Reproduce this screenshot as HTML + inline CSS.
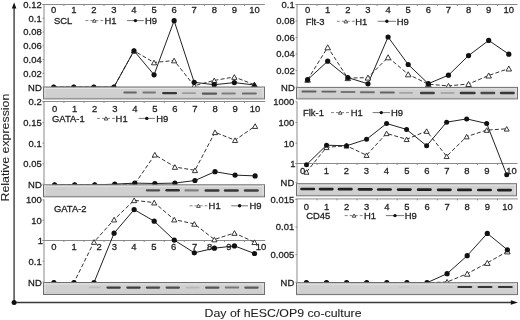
<!DOCTYPE html>
<html><head><meta charset="utf-8"><style>
html,body{margin:0;padding:0;background:#fff;width:520px;height:320px;overflow:hidden}
</style></head><body>
<svg width="520" height="320" viewBox="0 0 520 320" style="display:block;filter:blur(0.3px)">
<rect width="520" height="320" fill="#fff"/>
<g font-family='"Liberation Sans", sans-serif'>
<polyline points="53.70,87.10 73.77,87.10 93.84,87.10 113.91,87.10 133.98,50.80 154.05,62.50 174.12,60.50 194.19,85.80 214.26,80.40 234.33,77.00 254.40,84.70" fill="none" stroke="#333" stroke-width="1.0" stroke-dasharray="4,2.2"/>
<polyline points="53.70,87.10 73.77,87.10 93.84,87.10 113.91,87.10 133.98,50.80 154.05,74.80 174.12,20.70 194.19,82.30 214.26,84.70 234.33,82.60 254.40,85.00" fill="none" stroke="#222" stroke-width="1.0"/>
<polygon points="51.10,89.44 56.30,89.44 53.70,84.76" fill="#fff" stroke="#222" stroke-width="0.9"/>
<polygon points="71.17,89.44 76.37,89.44 73.77,84.76" fill="#fff" stroke="#222" stroke-width="0.9"/>
<polygon points="91.24,89.44 96.44,89.44 93.84,84.76" fill="#fff" stroke="#222" stroke-width="0.9"/>
<polygon points="111.31,89.44 116.51,89.44 113.91,84.76" fill="#fff" stroke="#222" stroke-width="0.9"/>
<polygon points="131.38,53.14 136.58,53.14 133.98,48.46" fill="#fff" stroke="#222" stroke-width="0.9"/>
<polygon points="151.45,64.84 156.65,64.84 154.05,60.16" fill="#fff" stroke="#222" stroke-width="0.9"/>
<polygon points="171.52,62.84 176.72,62.84 174.12,58.16" fill="#fff" stroke="#222" stroke-width="0.9"/>
<polygon points="191.59,88.14 196.79,88.14 194.19,83.46" fill="#fff" stroke="#222" stroke-width="0.9"/>
<polygon points="211.66,82.74 216.86,82.74 214.26,78.06" fill="#fff" stroke="#222" stroke-width="0.9"/>
<polygon points="231.73,79.34 236.93,79.34 234.33,74.66" fill="#fff" stroke="#222" stroke-width="0.9"/>
<polygon points="251.80,87.04 257.00,87.04 254.40,82.36" fill="#fff" stroke="#222" stroke-width="0.9"/>
<circle cx="53.70" cy="87.10" r="2.6" fill="#111"/>
<circle cx="73.77" cy="87.10" r="2.6" fill="#111"/>
<circle cx="93.84" cy="87.10" r="2.6" fill="#111"/>
<circle cx="113.91" cy="87.10" r="2.6" fill="#111"/>
<circle cx="133.98" cy="50.80" r="2.6" fill="#111"/>
<circle cx="154.05" cy="74.80" r="2.6" fill="#111"/>
<circle cx="174.12" cy="20.70" r="2.6" fill="#111"/>
<circle cx="194.19" cy="82.30" r="2.6" fill="#111"/>
<circle cx="214.26" cy="84.70" r="2.6" fill="#111"/>
<circle cx="234.33" cy="82.60" r="2.6" fill="#111"/>
<polygon points="251.60,87.22 257.20,87.22 254.40,82.18" fill="#111" stroke="#222" stroke-width="0.9"/>
<rect x="43.50" y="87.00" width="221.00" height="11.90" fill="#d0d0d0" stroke="#707070" stroke-width="1"/>
<line x1="44.00" y1="88.50" x2="264.00" y2="88.50" stroke="#e4e4e4" stroke-width="1"/>
<line x1="45.00" y1="87.50" x2="45.00" y2="98.40" stroke="#e0e0e0" stroke-width="1"/>
<line x1="263.00" y1="87.50" x2="263.00" y2="98.40" stroke="#e4e4e4" stroke-width="1"/>
<line x1="44.00" y1="97.40" x2="264.00" y2="97.40" stroke="#cbcbcb" stroke-width="1"/>
<rect x="123.35" y="91.60" width="13.50" height="1.80" rx="0.90" fill="#646464"/>
<rect x="142.45" y="91.60" width="13.50" height="1.80" rx="0.90" fill="#777777"/>
<rect x="162.10" y="92.05" width="15.00" height="2.30" rx="1.15" fill="#373737"/>
<rect x="182.00" y="92.30" width="14.00" height="1.80" rx="0.90" fill="#9b9b9b"/>
<rect x="201.75" y="92.55" width="15.50" height="2.10" rx="1.05" fill="#5b5b5b"/>
<rect x="221.35" y="92.60" width="14.50" height="2.00" rx="1.00" fill="#808080"/>
<rect x="241.80" y="92.40" width="15.00" height="2.00" rx="1.00" fill="#6d6d6d"/>
<line x1="44" y1="4.5" x2="44" y2="87.5" stroke="#8a8a8a" stroke-width="1"/>
<line x1="42.5" y1="4.50" x2="44" y2="4.50" stroke="#8a8a8a" stroke-width="1"/>
<text transform="translate(41.70,7.85) scale(0.955,1)" font-size="9.9" text-anchor="end" fill="#1e1e1e" stroke="#1e1e1e" stroke-width="0.3" >0.12</text>
<line x1="42.5" y1="18.20" x2="44" y2="18.20" stroke="#8a8a8a" stroke-width="1"/>
<text transform="translate(41.70,21.55) scale(0.955,1)" font-size="9.9" text-anchor="end" fill="#1e1e1e" stroke="#1e1e1e" stroke-width="0.3" >0.1</text>
<line x1="42.5" y1="32.00" x2="44" y2="32.00" stroke="#8a8a8a" stroke-width="1"/>
<text transform="translate(41.70,35.35) scale(0.955,1)" font-size="9.9" text-anchor="end" fill="#1e1e1e" stroke="#1e1e1e" stroke-width="0.3" >0.08</text>
<line x1="42.5" y1="45.80" x2="44" y2="45.80" stroke="#8a8a8a" stroke-width="1"/>
<text transform="translate(41.70,49.15) scale(0.955,1)" font-size="9.9" text-anchor="end" fill="#1e1e1e" stroke="#1e1e1e" stroke-width="0.3" >0.06</text>
<line x1="42.5" y1="59.60" x2="44" y2="59.60" stroke="#8a8a8a" stroke-width="1"/>
<text transform="translate(41.70,62.95) scale(0.955,1)" font-size="9.9" text-anchor="end" fill="#1e1e1e" stroke="#1e1e1e" stroke-width="0.3" >0.04</text>
<line x1="42.5" y1="73.40" x2="44" y2="73.40" stroke="#8a8a8a" stroke-width="1"/>
<text transform="translate(41.70,76.75) scale(0.955,1)" font-size="9.9" text-anchor="end" fill="#1e1e1e" stroke="#1e1e1e" stroke-width="0.3" >0.02</text>
<line x1="42.5" y1="87.20" x2="44" y2="87.20" stroke="#8a8a8a" stroke-width="1"/>
<text transform="translate(41.70,90.55) scale(0.955,1)" font-size="9.9" text-anchor="end" fill="#1e1e1e" stroke="#1e1e1e" stroke-width="0.3" >ND</text>
<line x1="42.5" y1="4.5" x2="264.8" y2="4.5" stroke="#8a8a8a" stroke-width="1"/>
<line x1="63.90" y1="4.5" x2="63.90" y2="6.0" stroke="#8a8a8a" stroke-width="1"/>
<line x1="83.97" y1="4.5" x2="83.97" y2="6.0" stroke="#8a8a8a" stroke-width="1"/>
<line x1="104.04" y1="4.5" x2="104.04" y2="6.0" stroke="#8a8a8a" stroke-width="1"/>
<line x1="124.11" y1="4.5" x2="124.11" y2="6.0" stroke="#8a8a8a" stroke-width="1"/>
<line x1="144.18" y1="4.5" x2="144.18" y2="6.0" stroke="#8a8a8a" stroke-width="1"/>
<line x1="164.25" y1="4.5" x2="164.25" y2="6.0" stroke="#8a8a8a" stroke-width="1"/>
<line x1="184.32" y1="4.5" x2="184.32" y2="6.0" stroke="#8a8a8a" stroke-width="1"/>
<line x1="204.39" y1="4.5" x2="204.39" y2="6.0" stroke="#8a8a8a" stroke-width="1"/>
<line x1="224.46" y1="4.5" x2="224.46" y2="6.0" stroke="#8a8a8a" stroke-width="1"/>
<line x1="244.53" y1="4.5" x2="244.53" y2="6.0" stroke="#8a8a8a" stroke-width="1"/>
<text transform="translate(53.70,12.90) scale(0.955,1)" font-size="9.9" text-anchor="middle" fill="#1e1e1e" stroke="#1e1e1e" stroke-width="0.3" >0</text>
<text transform="translate(73.77,12.90) scale(0.955,1)" font-size="9.9" text-anchor="middle" fill="#1e1e1e" stroke="#1e1e1e" stroke-width="0.3" >1</text>
<text transform="translate(93.84,12.90) scale(0.955,1)" font-size="9.9" text-anchor="middle" fill="#1e1e1e" stroke="#1e1e1e" stroke-width="0.3" >2</text>
<text transform="translate(113.91,12.90) scale(0.955,1)" font-size="9.9" text-anchor="middle" fill="#1e1e1e" stroke="#1e1e1e" stroke-width="0.3" >3</text>
<text transform="translate(133.98,12.90) scale(0.955,1)" font-size="9.9" text-anchor="middle" fill="#1e1e1e" stroke="#1e1e1e" stroke-width="0.3" >4</text>
<text transform="translate(154.05,12.90) scale(0.955,1)" font-size="9.9" text-anchor="middle" fill="#1e1e1e" stroke="#1e1e1e" stroke-width="0.3" >5</text>
<text transform="translate(174.12,12.90) scale(0.955,1)" font-size="9.9" text-anchor="middle" fill="#1e1e1e" stroke="#1e1e1e" stroke-width="0.3" >6</text>
<text transform="translate(194.19,12.90) scale(0.955,1)" font-size="9.9" text-anchor="middle" fill="#1e1e1e" stroke="#1e1e1e" stroke-width="0.3" >7</text>
<text transform="translate(214.26,12.90) scale(0.955,1)" font-size="9.9" text-anchor="middle" fill="#1e1e1e" stroke="#1e1e1e" stroke-width="0.3" >8</text>
<text transform="translate(234.33,12.90) scale(0.955,1)" font-size="9.9" text-anchor="middle" fill="#1e1e1e" stroke="#1e1e1e" stroke-width="0.3" >9</text>
<text transform="translate(254.40,12.90) scale(0.955,1)" font-size="9.9" text-anchor="middle" fill="#1e1e1e" stroke="#1e1e1e" stroke-width="0.3" >10</text>
<text transform="translate(53.90,23.95) scale(0.955,1)" font-size="9.9" text-anchor="start" fill="#1e1e1e" stroke="#1e1e1e" stroke-width="0.3" >SCL</text>
<line x1="85.4" y1="20.6" x2="103.2" y2="20.6" stroke="#777" stroke-width="0.9" stroke-dasharray="3,2"/>
<polygon points="92.50,22.22 96.10,22.22 94.30,18.98" fill="#fff" stroke="#222" stroke-width="0.8"/>
<text transform="translate(104.40,23.95) scale(0.955,1)" font-size="9.9" text-anchor="start" fill="#1e1e1e" stroke="#1e1e1e" stroke-width="0.3" >H1</text>
<line x1="127.0" y1="20.6" x2="143.8" y2="20.6" stroke="#666" stroke-width="0.9"/>
<circle cx="135.40" cy="20.60" r="1.7" fill="#111"/>
<text transform="translate(145.00,23.95) scale(0.955,1)" font-size="9.9" text-anchor="start" fill="#1e1e1e" stroke="#1e1e1e" stroke-width="0.3" >H9</text>
<polyline points="54.60,184.80 74.65,184.80 94.70,184.80 114.75,184.40 134.80,184.00 154.85,154.70 174.90,167.00 194.95,170.30 215.00,132.30 235.05,140.20 255.10,126.10" fill="none" stroke="#333" stroke-width="1.0" stroke-dasharray="4,2.2"/>
<polyline points="54.60,184.80 74.65,184.80 94.70,184.80 114.75,184.20 134.80,183.10 154.85,183.50 174.90,183.10 194.95,180.50 215.00,171.70 235.05,175.10 255.10,175.90" fill="none" stroke="#222" stroke-width="1.0"/>
<polygon points="52.00,187.14 57.20,187.14 54.60,182.46" fill="#fff" stroke="#222" stroke-width="0.9"/>
<polygon points="72.05,187.14 77.25,187.14 74.65,182.46" fill="#fff" stroke="#222" stroke-width="0.9"/>
<polygon points="92.10,187.14 97.30,187.14 94.70,182.46" fill="#fff" stroke="#222" stroke-width="0.9"/>
<polygon points="112.15,186.74 117.35,186.74 114.75,182.06" fill="#fff" stroke="#222" stroke-width="0.9"/>
<polygon points="132.20,186.34 137.40,186.34 134.80,181.66" fill="#fff" stroke="#222" stroke-width="0.9"/>
<polygon points="152.25,157.04 157.45,157.04 154.85,152.36" fill="#fff" stroke="#222" stroke-width="0.9"/>
<polygon points="172.30,169.34 177.50,169.34 174.90,164.66" fill="#fff" stroke="#222" stroke-width="0.9"/>
<polygon points="192.35,172.64 197.55,172.64 194.95,167.96" fill="#fff" stroke="#222" stroke-width="0.9"/>
<polygon points="212.40,134.64 217.60,134.64 215.00,129.96" fill="#fff" stroke="#222" stroke-width="0.9"/>
<polygon points="232.45,142.54 237.65,142.54 235.05,137.86" fill="#fff" stroke="#222" stroke-width="0.9"/>
<polygon points="252.50,128.44 257.70,128.44 255.10,123.76" fill="#fff" stroke="#222" stroke-width="0.9"/>
<circle cx="54.60" cy="184.80" r="2.6" fill="#111"/>
<circle cx="74.65" cy="184.80" r="2.6" fill="#111"/>
<circle cx="94.70" cy="184.80" r="2.6" fill="#111"/>
<circle cx="114.75" cy="184.20" r="2.6" fill="#111"/>
<circle cx="134.80" cy="183.10" r="2.6" fill="#111"/>
<circle cx="154.85" cy="183.50" r="2.6" fill="#111"/>
<circle cx="174.90" cy="183.10" r="2.6" fill="#111"/>
<circle cx="194.95" cy="180.50" r="2.6" fill="#111"/>
<circle cx="215.00" cy="171.70" r="2.6" fill="#111"/>
<circle cx="235.05" cy="175.10" r="2.6" fill="#111"/>
<circle cx="255.10" cy="175.90" r="2.6" fill="#111"/>
<rect x="43.50" y="184.80" width="221.00" height="12.00" fill="#d0d0d0" stroke="#707070" stroke-width="1"/>
<line x1="44.00" y1="186.30" x2="264.00" y2="186.30" stroke="#e4e4e4" stroke-width="1"/>
<line x1="45.00" y1="185.30" x2="45.00" y2="196.30" stroke="#e0e0e0" stroke-width="1"/>
<line x1="263.00" y1="185.30" x2="263.00" y2="196.30" stroke="#e4e4e4" stroke-width="1"/>
<line x1="44.00" y1="195.30" x2="264.00" y2="195.30" stroke="#cbcbcb" stroke-width="1"/>
<rect x="54.00" y="188.70" width="12.00" height="1.60" rx="0.80" fill="#cccccc"/>
<rect x="145.75" y="189.15" width="14.50" height="2.30" rx="1.15" fill="#4e4e4e"/>
<rect x="165.35" y="189.05" width="14.50" height="2.50" rx="1.25" fill="#313131"/>
<rect x="184.35" y="189.30" width="14.50" height="2.20" rx="1.10" fill="#808080"/>
<rect x="204.50" y="189.25" width="15.00" height="2.50" rx="1.25" fill="#373737"/>
<rect x="223.80" y="189.25" width="15.00" height="2.50" rx="1.25" fill="#373737"/>
<rect x="243.80" y="189.25" width="15.00" height="2.50" rx="1.25" fill="#404040"/>
<line x1="44" y1="101.5" x2="44" y2="184.5" stroke="#8a8a8a" stroke-width="1"/>
<line x1="42.5" y1="102.00" x2="44" y2="102.00" stroke="#8a8a8a" stroke-width="1"/>
<text transform="translate(41.70,105.35) scale(0.955,1)" font-size="9.9" text-anchor="end" fill="#1e1e1e" stroke="#1e1e1e" stroke-width="0.3" >0.2</text>
<line x1="42.5" y1="122.60" x2="44" y2="122.60" stroke="#8a8a8a" stroke-width="1"/>
<text transform="translate(41.70,125.95) scale(0.955,1)" font-size="9.9" text-anchor="end" fill="#1e1e1e" stroke="#1e1e1e" stroke-width="0.3" >0.15</text>
<line x1="42.5" y1="143.20" x2="44" y2="143.20" stroke="#8a8a8a" stroke-width="1"/>
<text transform="translate(41.70,146.55) scale(0.955,1)" font-size="9.9" text-anchor="end" fill="#1e1e1e" stroke="#1e1e1e" stroke-width="0.3" >0.1</text>
<line x1="42.5" y1="163.80" x2="44" y2="163.80" stroke="#8a8a8a" stroke-width="1"/>
<text transform="translate(41.70,167.15) scale(0.955,1)" font-size="9.9" text-anchor="end" fill="#1e1e1e" stroke="#1e1e1e" stroke-width="0.3" >0.05</text>
<line x1="42.5" y1="184.30" x2="44" y2="184.30" stroke="#8a8a8a" stroke-width="1"/>
<text transform="translate(41.70,187.65) scale(0.955,1)" font-size="9.9" text-anchor="end" fill="#1e1e1e" stroke="#1e1e1e" stroke-width="0.3" >ND</text>
<line x1="42.5" y1="101.5" x2="265.2" y2="101.5" stroke="#8a8a8a" stroke-width="1"/>
<line x1="63.90" y1="101.5" x2="63.90" y2="103.0" stroke="#8a8a8a" stroke-width="1"/>
<line x1="83.97" y1="101.5" x2="83.97" y2="103.0" stroke="#8a8a8a" stroke-width="1"/>
<line x1="104.04" y1="101.5" x2="104.04" y2="103.0" stroke="#8a8a8a" stroke-width="1"/>
<line x1="124.11" y1="101.5" x2="124.11" y2="103.0" stroke="#8a8a8a" stroke-width="1"/>
<line x1="144.18" y1="101.5" x2="144.18" y2="103.0" stroke="#8a8a8a" stroke-width="1"/>
<line x1="164.25" y1="101.5" x2="164.25" y2="103.0" stroke="#8a8a8a" stroke-width="1"/>
<line x1="184.32" y1="101.5" x2="184.32" y2="103.0" stroke="#8a8a8a" stroke-width="1"/>
<line x1="204.39" y1="101.5" x2="204.39" y2="103.0" stroke="#8a8a8a" stroke-width="1"/>
<line x1="224.46" y1="101.5" x2="224.46" y2="103.0" stroke="#8a8a8a" stroke-width="1"/>
<line x1="244.53" y1="101.5" x2="244.53" y2="103.0" stroke="#8a8a8a" stroke-width="1"/>
<text transform="translate(54.60,111.70) scale(0.955,1)" font-size="9.9" text-anchor="middle" fill="#1e1e1e" stroke="#1e1e1e" stroke-width="0.3" >0</text>
<text transform="translate(74.65,111.70) scale(0.955,1)" font-size="9.9" text-anchor="middle" fill="#1e1e1e" stroke="#1e1e1e" stroke-width="0.3" >1</text>
<text transform="translate(94.70,111.70) scale(0.955,1)" font-size="9.9" text-anchor="middle" fill="#1e1e1e" stroke="#1e1e1e" stroke-width="0.3" >2</text>
<text transform="translate(114.75,111.70) scale(0.955,1)" font-size="9.9" text-anchor="middle" fill="#1e1e1e" stroke="#1e1e1e" stroke-width="0.3" >3</text>
<text transform="translate(134.80,111.70) scale(0.955,1)" font-size="9.9" text-anchor="middle" fill="#1e1e1e" stroke="#1e1e1e" stroke-width="0.3" >4</text>
<text transform="translate(154.85,111.70) scale(0.955,1)" font-size="9.9" text-anchor="middle" fill="#1e1e1e" stroke="#1e1e1e" stroke-width="0.3" >5</text>
<text transform="translate(174.90,111.70) scale(0.955,1)" font-size="9.9" text-anchor="middle" fill="#1e1e1e" stroke="#1e1e1e" stroke-width="0.3" >6</text>
<text transform="translate(194.95,111.70) scale(0.955,1)" font-size="9.9" text-anchor="middle" fill="#1e1e1e" stroke="#1e1e1e" stroke-width="0.3" >7</text>
<text transform="translate(215.00,111.70) scale(0.955,1)" font-size="9.9" text-anchor="middle" fill="#1e1e1e" stroke="#1e1e1e" stroke-width="0.3" >8</text>
<text transform="translate(235.05,111.70) scale(0.955,1)" font-size="9.9" text-anchor="middle" fill="#1e1e1e" stroke="#1e1e1e" stroke-width="0.3" >9</text>
<text transform="translate(255.10,111.70) scale(0.955,1)" font-size="9.9" text-anchor="middle" fill="#1e1e1e" stroke="#1e1e1e" stroke-width="0.3" >10</text>
<text transform="translate(52.00,121.75) scale(0.955,1)" font-size="9.9" text-anchor="start" fill="#1e1e1e" stroke="#1e1e1e" stroke-width="0.3" >GATA-1</text>
<line x1="97.0" y1="118.4" x2="115.0" y2="118.4" stroke="#777" stroke-width="0.9" stroke-dasharray="3,2"/>
<polygon points="104.20,120.02 107.80,120.02 106.00,116.78" fill="#fff" stroke="#222" stroke-width="0.8"/>
<text transform="translate(115.60,121.75) scale(0.955,1)" font-size="9.9" text-anchor="start" fill="#1e1e1e" stroke="#1e1e1e" stroke-width="0.3" >H1</text>
<line x1="138.6" y1="118.4" x2="155.0" y2="118.4" stroke="#666" stroke-width="0.9"/>
<circle cx="146.80" cy="118.40" r="1.7" fill="#111"/>
<text transform="translate(156.20,121.75) scale(0.955,1)" font-size="9.9" text-anchor="start" fill="#1e1e1e" stroke="#1e1e1e" stroke-width="0.3" >H9</text>
<line x1="42.5" y1="240.5" x2="265.2" y2="240.5" stroke="#8a8a8a" stroke-width="1"/>
<line x1="63.90" y1="240.5" x2="63.90" y2="242.0" stroke="#8a8a8a" stroke-width="1"/>
<line x1="83.97" y1="240.5" x2="83.97" y2="242.0" stroke="#8a8a8a" stroke-width="1"/>
<line x1="104.04" y1="240.5" x2="104.04" y2="242.0" stroke="#8a8a8a" stroke-width="1"/>
<line x1="124.11" y1="240.5" x2="124.11" y2="242.0" stroke="#8a8a8a" stroke-width="1"/>
<line x1="144.18" y1="240.5" x2="144.18" y2="242.0" stroke="#8a8a8a" stroke-width="1"/>
<line x1="164.25" y1="240.5" x2="164.25" y2="242.0" stroke="#8a8a8a" stroke-width="1"/>
<line x1="184.32" y1="240.5" x2="184.32" y2="242.0" stroke="#8a8a8a" stroke-width="1"/>
<line x1="204.39" y1="240.5" x2="204.39" y2="242.0" stroke="#8a8a8a" stroke-width="1"/>
<line x1="224.46" y1="240.5" x2="224.46" y2="242.0" stroke="#8a8a8a" stroke-width="1"/>
<line x1="244.53" y1="240.5" x2="244.53" y2="242.0" stroke="#8a8a8a" stroke-width="1"/>
<text transform="translate(53.90,250.00) scale(0.955,1)" font-size="9.9" text-anchor="middle" fill="#1e1e1e" stroke="#1e1e1e" stroke-width="0.3" >0</text>
<text transform="translate(74.00,250.00) scale(0.955,1)" font-size="9.9" text-anchor="middle" fill="#1e1e1e" stroke="#1e1e1e" stroke-width="0.3" >1</text>
<text transform="translate(99.10,250.00) scale(0.955,1)" font-size="9.9" text-anchor="middle" fill="#1e1e1e" stroke="#1e1e1e" stroke-width="0.3" >2</text>
<text transform="translate(114.40,250.00) scale(0.955,1)" font-size="9.9" text-anchor="middle" fill="#1e1e1e" stroke="#1e1e1e" stroke-width="0.3" >3</text>
<text transform="translate(133.90,250.00) scale(0.955,1)" font-size="9.9" text-anchor="middle" fill="#1e1e1e" stroke="#1e1e1e" stroke-width="0.3" >4</text>
<text transform="translate(153.90,250.00) scale(0.955,1)" font-size="9.9" text-anchor="middle" fill="#1e1e1e" stroke="#1e1e1e" stroke-width="0.3" >5</text>
<text transform="translate(173.60,250.00) scale(0.955,1)" font-size="9.9" text-anchor="middle" fill="#1e1e1e" stroke="#1e1e1e" stroke-width="0.3" >6</text>
<text transform="translate(194.50,250.00) scale(0.955,1)" font-size="9.9" text-anchor="middle" fill="#1e1e1e" stroke="#1e1e1e" stroke-width="0.3" >7</text>
<text transform="translate(209.50,250.00) scale(0.955,1)" font-size="9.9" text-anchor="middle" fill="#1e1e1e" stroke="#1e1e1e" stroke-width="0.3" >8</text>
<text transform="translate(228.80,250.00) scale(0.955,1)" font-size="9.9" text-anchor="middle" fill="#1e1e1e" stroke="#1e1e1e" stroke-width="0.3" >9</text>
<text transform="translate(261.00,250.00) scale(0.955,1)" font-size="9.9" text-anchor="middle" fill="#1e1e1e" stroke="#1e1e1e" stroke-width="0.3" >10</text>
<polyline points="53.90,282.50 73.96,282.50 94.02,242.00 114.08,219.60 134.14,200.30 154.20,202.60 174.26,219.60 194.32,223.90 214.38,239.50 234.44,233.00 254.50,242.20" fill="none" stroke="#333" stroke-width="1.0" stroke-dasharray="4,2.2"/>
<polyline points="53.90,282.50 73.96,282.50 94.02,282.50 114.08,233.20 134.14,209.60 154.20,221.20 174.26,240.10 194.32,252.80 214.38,248.20 234.44,245.90 254.50,253.50" fill="none" stroke="#222" stroke-width="1.0"/>
<polygon points="51.30,284.84 56.50,284.84 53.90,280.16" fill="#fff" stroke="#222" stroke-width="0.9"/>
<polygon points="71.36,284.84 76.56,284.84 73.96,280.16" fill="#fff" stroke="#222" stroke-width="0.9"/>
<polygon points="91.42,244.34 96.62,244.34 94.02,239.66" fill="#fff" stroke="#222" stroke-width="0.9"/>
<polygon points="111.48,221.94 116.68,221.94 114.08,217.26" fill="#fff" stroke="#222" stroke-width="0.9"/>
<polygon points="131.54,202.64 136.74,202.64 134.14,197.96" fill="#fff" stroke="#222" stroke-width="0.9"/>
<polygon points="151.60,204.94 156.80,204.94 154.20,200.26" fill="#fff" stroke="#222" stroke-width="0.9"/>
<polygon points="171.66,221.94 176.86,221.94 174.26,217.26" fill="#fff" stroke="#222" stroke-width="0.9"/>
<polygon points="191.72,226.24 196.92,226.24 194.32,221.56" fill="#fff" stroke="#222" stroke-width="0.9"/>
<polygon points="211.78,241.84 216.98,241.84 214.38,237.16" fill="#fff" stroke="#222" stroke-width="0.9"/>
<polygon points="231.84,235.34 237.04,235.34 234.44,230.66" fill="#fff" stroke="#222" stroke-width="0.9"/>
<polygon points="251.90,244.54 257.10,244.54 254.50,239.86" fill="#fff" stroke="#222" stroke-width="0.9"/>
<circle cx="53.90" cy="282.50" r="2.6" fill="#111"/>
<circle cx="73.96" cy="282.50" r="2.6" fill="#111"/>
<circle cx="94.02" cy="282.50" r="2.6" fill="#111"/>
<circle cx="114.08" cy="233.20" r="2.6" fill="#111"/>
<circle cx="134.14" cy="209.60" r="2.6" fill="#111"/>
<circle cx="154.20" cy="221.20" r="2.6" fill="#111"/>
<circle cx="174.26" cy="240.10" r="2.6" fill="#111"/>
<circle cx="194.32" cy="252.80" r="2.6" fill="#111"/>
<circle cx="214.38" cy="248.20" r="2.6" fill="#111"/>
<circle cx="234.44" cy="245.90" r="2.6" fill="#111"/>
<circle cx="254.50" cy="253.50" r="2.6" fill="#111"/>
<rect x="43.50" y="282.50" width="221.00" height="12.00" fill="#d0d0d0" stroke="#707070" stroke-width="1"/>
<line x1="44.00" y1="284.00" x2="264.00" y2="284.00" stroke="#e4e4e4" stroke-width="1"/>
<line x1="45.00" y1="283.00" x2="45.00" y2="294.00" stroke="#e0e0e0" stroke-width="1"/>
<line x1="263.00" y1="283.00" x2="263.00" y2="294.00" stroke="#e4e4e4" stroke-width="1"/>
<line x1="44.00" y1="293.00" x2="264.00" y2="293.00" stroke="#cbcbcb" stroke-width="1"/>
<rect x="88.70" y="286.50" width="12.00" height="1.80" rx="0.90" fill="#bcbcbc"/>
<rect x="106.35" y="286.45" width="14.50" height="2.30" rx="1.15" fill="#3c3c3c"/>
<rect x="126.25" y="286.45" width="14.50" height="2.30" rx="1.15" fill="#3c3c3c"/>
<rect x="145.75" y="286.50" width="14.50" height="2.20" rx="1.10" fill="#494949"/>
<rect x="165.55" y="286.50" width="14.50" height="2.20" rx="1.10" fill="#4e4e4e"/>
<rect x="185.70" y="286.70" width="14.00" height="1.80" rx="0.90" fill="#b6b6b6"/>
<rect x="205.05" y="286.55" width="14.50" height="2.10" rx="1.05" fill="#565656"/>
<rect x="224.75" y="286.60" width="14.50" height="2.00" rx="1.00" fill="#777777"/>
<rect x="244.25" y="286.55" width="14.50" height="2.10" rx="1.05" fill="#5b5b5b"/>
<line x1="44" y1="199.4" x2="44" y2="282.5" stroke="#8a8a8a" stroke-width="1"/>
<line x1="42.5" y1="199.90" x2="44" y2="199.90" stroke="#8a8a8a" stroke-width="1"/>
<text transform="translate(41.70,203.25) scale(0.955,1)" font-size="9.9" text-anchor="end" fill="#1e1e1e" stroke="#1e1e1e" stroke-width="0.3" >100</text>
<line x1="42.5" y1="220.20" x2="44" y2="220.20" stroke="#8a8a8a" stroke-width="1"/>
<text transform="translate(41.70,223.55) scale(0.955,1)" font-size="9.9" text-anchor="end" fill="#1e1e1e" stroke="#1e1e1e" stroke-width="0.3" >10</text>
<line x1="42.5" y1="240.50" x2="44" y2="240.50" stroke="#8a8a8a" stroke-width="1"/>
<text transform="translate(42.90,243.85) scale(0.955,1)" font-size="9.9" text-anchor="end" fill="#1e1e1e" stroke="#1e1e1e" stroke-width="0.3" >1</text>
<line x1="42.5" y1="261.30" x2="44" y2="261.30" stroke="#8a8a8a" stroke-width="1"/>
<text transform="translate(41.70,264.65) scale(0.955,1)" font-size="9.9" text-anchor="end" fill="#1e1e1e" stroke="#1e1e1e" stroke-width="0.3" >0.1</text>
<line x1="42.5" y1="282.20" x2="44" y2="282.20" stroke="#8a8a8a" stroke-width="1"/>
<text transform="translate(41.70,285.55) scale(0.955,1)" font-size="9.9" text-anchor="end" fill="#1e1e1e" stroke="#1e1e1e" stroke-width="0.3" >ND</text>
<text transform="translate(53.90,212.00) scale(0.955,1)" font-size="9.9" text-anchor="start" fill="#1e1e1e" stroke="#1e1e1e" stroke-width="0.3" >GATA-2</text>
<text transform="translate(0.00,209.15) scale(0.955,1)" font-size="9.9" text-anchor="start" fill="#1e1e1e" stroke="#1e1e1e" stroke-width="0.3" ></text>
<line x1="189.6" y1="205.8" x2="207.3" y2="205.8" stroke="#777" stroke-width="0.9" stroke-dasharray="3,2"/>
<polygon points="196.65,207.42 200.25,207.42 198.45,204.18" fill="#fff" stroke="#222" stroke-width="0.8"/>
<text transform="translate(208.60,209.15) scale(0.955,1)" font-size="9.9" text-anchor="start" fill="#1e1e1e" stroke="#1e1e1e" stroke-width="0.3" >H1</text>
<line x1="231.2" y1="205.8" x2="248.0" y2="205.8" stroke="#666" stroke-width="0.9"/>
<circle cx="239.60" cy="205.80" r="1.7" fill="#111"/>
<text transform="translate(249.40,209.15) scale(0.955,1)" font-size="9.9" text-anchor="start" fill="#1e1e1e" stroke="#1e1e1e" stroke-width="0.3" >H9</text>
<polyline points="307.60,79.70 327.72,47.30 347.84,78.10 367.96,77.60 388.08,57.30 408.20,74.30 428.32,84.20 448.44,85.90 468.56,84.00 488.68,75.50 508.80,68.50" fill="none" stroke="#333" stroke-width="1.0" stroke-dasharray="4,2.2"/>
<polyline points="307.60,79.70 327.72,61.20 347.84,77.60 367.96,83.80 388.08,37.00 408.20,64.50 428.32,83.70 448.44,75.20 468.56,55.60 488.68,40.40 508.80,54.20" fill="none" stroke="#222" stroke-width="1.0"/>
<polygon points="304.80,82.22 310.40,82.22 307.60,77.18" fill="#fff" stroke="#222" stroke-width="0.9"/>
<polygon points="324.92,49.82 330.52,49.82 327.72,44.78" fill="#fff" stroke="#222" stroke-width="0.9"/>
<polygon points="345.04,80.62 350.64,80.62 347.84,75.58" fill="#fff" stroke="#222" stroke-width="0.9"/>
<polygon points="365.16,80.12 370.76,80.12 367.96,75.08" fill="#fff" stroke="#222" stroke-width="0.9"/>
<polygon points="385.28,59.82 390.88,59.82 388.08,54.78" fill="#fff" stroke="#222" stroke-width="0.9"/>
<polygon points="405.40,76.82 411.00,76.82 408.20,71.78" fill="#fff" stroke="#222" stroke-width="0.9"/>
<polygon points="425.52,86.72 431.12,86.72 428.32,81.68" fill="#fff" stroke="#222" stroke-width="0.9"/>
<polygon points="445.64,88.42 451.24,88.42 448.44,83.38" fill="#fff" stroke="#222" stroke-width="0.9"/>
<polygon points="465.76,86.52 471.36,86.52 468.56,81.48" fill="#fff" stroke="#222" stroke-width="0.9"/>
<polygon points="485.88,78.02 491.48,78.02 488.68,72.98" fill="#fff" stroke="#222" stroke-width="0.9"/>
<polygon points="506.00,71.02 511.60,71.02 508.80,65.98" fill="#fff" stroke="#222" stroke-width="0.9"/>
<circle cx="307.60" cy="79.70" r="2.6" fill="#111"/>
<circle cx="327.72" cy="61.20" r="2.6" fill="#111"/>
<circle cx="347.84" cy="77.60" r="2.6" fill="#111"/>
<circle cx="367.96" cy="83.80" r="2.6" fill="#111"/>
<circle cx="388.08" cy="37.00" r="2.6" fill="#111"/>
<circle cx="408.20" cy="64.50" r="2.6" fill="#111"/>
<circle cx="428.32" cy="83.70" r="2.6" fill="#111"/>
<circle cx="448.44" cy="75.20" r="2.6" fill="#111"/>
<circle cx="468.56" cy="55.60" r="2.6" fill="#111"/>
<circle cx="488.68" cy="40.40" r="2.6" fill="#111"/>
<circle cx="508.80" cy="54.20" r="2.6" fill="#111"/>
<rect x="296.50" y="87.40" width="221.00" height="11.50" fill="#d0d0d0" stroke="#707070" stroke-width="1"/>
<line x1="297.00" y1="88.90" x2="517.00" y2="88.90" stroke="#e4e4e4" stroke-width="1"/>
<line x1="298.00" y1="87.90" x2="298.00" y2="98.40" stroke="#e0e0e0" stroke-width="1"/>
<line x1="516.00" y1="87.90" x2="516.00" y2="98.40" stroke="#e4e4e4" stroke-width="1"/>
<line x1="297.00" y1="97.40" x2="517.00" y2="97.40" stroke="#cbcbcb" stroke-width="1"/>
<rect x="301.50" y="90.55" width="15.00" height="1.90" rx="0.95" fill="#616161"/>
<rect x="321.40" y="90.65" width="15.00" height="1.90" rx="0.95" fill="#616161"/>
<rect x="340.50" y="91.05" width="15.00" height="1.90" rx="0.95" fill="#777777"/>
<rect x="359.90" y="91.35" width="15.00" height="1.90" rx="0.95" fill="#6d6d6d"/>
<rect x="379.80" y="91.60" width="15.00" height="2.00" rx="1.00" fill="#646464"/>
<rect x="399.00" y="91.90" width="14.00" height="1.80" rx="0.90" fill="#a4a4a4"/>
<rect x="419.90" y="91.80" width="15.00" height="2.40" rx="1.20" fill="#404040"/>
<rect x="440.60" y="92.10" width="14.00" height="1.80" rx="0.90" fill="#a9a9a9"/>
<rect x="459.70" y="91.75" width="16.00" height="2.50" rx="1.25" fill="#373737"/>
<rect x="480.30" y="91.80" width="15.00" height="2.40" rx="1.20" fill="#494949"/>
<rect x="499.80" y="91.75" width="15.00" height="2.50" rx="1.25" fill="#373737"/>
<line x1="297" y1="4.5" x2="297" y2="87.5" stroke="#8a8a8a" stroke-width="1"/>
<line x1="295.5" y1="4.50" x2="297" y2="4.50" stroke="#8a8a8a" stroke-width="1"/>
<text transform="translate(294.70,7.85) scale(0.955,1)" font-size="9.9" text-anchor="end" fill="#1e1e1e" stroke="#1e1e1e" stroke-width="0.3" >0.1</text>
<line x1="295.5" y1="21.00" x2="297" y2="21.00" stroke="#8a8a8a" stroke-width="1"/>
<text transform="translate(294.70,24.35) scale(0.955,1)" font-size="9.9" text-anchor="end" fill="#1e1e1e" stroke="#1e1e1e" stroke-width="0.3" >0.08</text>
<line x1="295.5" y1="37.50" x2="297" y2="37.50" stroke="#8a8a8a" stroke-width="1"/>
<text transform="translate(294.70,40.85) scale(0.955,1)" font-size="9.9" text-anchor="end" fill="#1e1e1e" stroke="#1e1e1e" stroke-width="0.3" >0.06</text>
<line x1="295.5" y1="54.00" x2="297" y2="54.00" stroke="#8a8a8a" stroke-width="1"/>
<text transform="translate(294.70,57.35) scale(0.955,1)" font-size="9.9" text-anchor="end" fill="#1e1e1e" stroke="#1e1e1e" stroke-width="0.3" >0.04</text>
<line x1="295.5" y1="70.60" x2="297" y2="70.60" stroke="#8a8a8a" stroke-width="1"/>
<text transform="translate(294.70,73.95) scale(0.955,1)" font-size="9.9" text-anchor="end" fill="#1e1e1e" stroke="#1e1e1e" stroke-width="0.3" >0.02</text>
<line x1="295.5" y1="87.20" x2="297" y2="87.20" stroke="#8a8a8a" stroke-width="1"/>
<text transform="translate(294.70,90.55) scale(0.955,1)" font-size="9.9" text-anchor="end" fill="#1e1e1e" stroke="#1e1e1e" stroke-width="0.3" >ND</text>
<line x1="295.5" y1="4.5" x2="517.5" y2="4.5" stroke="#8a8a8a" stroke-width="1"/>
<line x1="317.00" y1="4.5" x2="317.00" y2="6.0" stroke="#8a8a8a" stroke-width="1"/>
<line x1="337.05" y1="4.5" x2="337.05" y2="6.0" stroke="#8a8a8a" stroke-width="1"/>
<line x1="357.10" y1="4.5" x2="357.10" y2="6.0" stroke="#8a8a8a" stroke-width="1"/>
<line x1="377.15" y1="4.5" x2="377.15" y2="6.0" stroke="#8a8a8a" stroke-width="1"/>
<line x1="397.20" y1="4.5" x2="397.20" y2="6.0" stroke="#8a8a8a" stroke-width="1"/>
<line x1="417.25" y1="4.5" x2="417.25" y2="6.0" stroke="#8a8a8a" stroke-width="1"/>
<line x1="437.30" y1="4.5" x2="437.30" y2="6.0" stroke="#8a8a8a" stroke-width="1"/>
<line x1="457.35" y1="4.5" x2="457.35" y2="6.0" stroke="#8a8a8a" stroke-width="1"/>
<line x1="477.40" y1="4.5" x2="477.40" y2="6.0" stroke="#8a8a8a" stroke-width="1"/>
<line x1="497.45" y1="4.5" x2="497.45" y2="6.0" stroke="#8a8a8a" stroke-width="1"/>
<text transform="translate(307.60,12.90) scale(0.955,1)" font-size="9.9" text-anchor="middle" fill="#1e1e1e" stroke="#1e1e1e" stroke-width="0.3" >0</text>
<text transform="translate(327.72,12.90) scale(0.955,1)" font-size="9.9" text-anchor="middle" fill="#1e1e1e" stroke="#1e1e1e" stroke-width="0.3" >1</text>
<text transform="translate(347.84,12.90) scale(0.955,1)" font-size="9.9" text-anchor="middle" fill="#1e1e1e" stroke="#1e1e1e" stroke-width="0.3" >2</text>
<text transform="translate(367.96,12.90) scale(0.955,1)" font-size="9.9" text-anchor="middle" fill="#1e1e1e" stroke="#1e1e1e" stroke-width="0.3" >3</text>
<text transform="translate(388.08,12.90) scale(0.955,1)" font-size="9.9" text-anchor="middle" fill="#1e1e1e" stroke="#1e1e1e" stroke-width="0.3" >4</text>
<text transform="translate(408.20,12.90) scale(0.955,1)" font-size="9.9" text-anchor="middle" fill="#1e1e1e" stroke="#1e1e1e" stroke-width="0.3" >5</text>
<text transform="translate(428.32,12.90) scale(0.955,1)" font-size="9.9" text-anchor="middle" fill="#1e1e1e" stroke="#1e1e1e" stroke-width="0.3" >6</text>
<text transform="translate(448.44,12.90) scale(0.955,1)" font-size="9.9" text-anchor="middle" fill="#1e1e1e" stroke="#1e1e1e" stroke-width="0.3" >7</text>
<text transform="translate(468.56,12.90) scale(0.955,1)" font-size="9.9" text-anchor="middle" fill="#1e1e1e" stroke="#1e1e1e" stroke-width="0.3" >8</text>
<text transform="translate(488.68,12.90) scale(0.955,1)" font-size="9.9" text-anchor="middle" fill="#1e1e1e" stroke="#1e1e1e" stroke-width="0.3" >9</text>
<text transform="translate(508.80,12.90) scale(0.955,1)" font-size="9.9" text-anchor="middle" fill="#1e1e1e" stroke="#1e1e1e" stroke-width="0.3" >10</text>
<text transform="translate(305.70,24.65) scale(0.955,1)" font-size="9.9" text-anchor="start" fill="#1e1e1e" stroke="#1e1e1e" stroke-width="0.3" >Flt-3</text>
<line x1="336.8" y1="21.3" x2="354.8" y2="21.3" stroke="#777" stroke-width="0.9" stroke-dasharray="3,2"/>
<polygon points="344.00,22.92 347.60,22.92 345.80,19.68" fill="#fff" stroke="#222" stroke-width="0.8"/>
<text transform="translate(355.30,24.65) scale(0.955,1)" font-size="9.9" text-anchor="start" fill="#1e1e1e" stroke="#1e1e1e" stroke-width="0.3" >H1</text>
<line x1="377.7" y1="21.3" x2="396" y2="21.3" stroke="#666" stroke-width="0.9"/>
<circle cx="386.85" cy="21.30" r="1.7" fill="#111"/>
<text transform="translate(396.80,24.65) scale(0.955,1)" font-size="9.9" text-anchor="start" fill="#1e1e1e" stroke="#1e1e1e" stroke-width="0.3" >H9</text>
<line x1="295.5" y1="163.5" x2="517.5" y2="163.5" stroke="#8a8a8a" stroke-width="1"/>
<line x1="317.00" y1="163.5" x2="317.00" y2="165.0" stroke="#8a8a8a" stroke-width="1"/>
<line x1="337.05" y1="163.5" x2="337.05" y2="165.0" stroke="#8a8a8a" stroke-width="1"/>
<line x1="357.10" y1="163.5" x2="357.10" y2="165.0" stroke="#8a8a8a" stroke-width="1"/>
<line x1="377.15" y1="163.5" x2="377.15" y2="165.0" stroke="#8a8a8a" stroke-width="1"/>
<line x1="397.20" y1="163.5" x2="397.20" y2="165.0" stroke="#8a8a8a" stroke-width="1"/>
<line x1="417.25" y1="163.5" x2="417.25" y2="165.0" stroke="#8a8a8a" stroke-width="1"/>
<line x1="437.30" y1="163.5" x2="437.30" y2="165.0" stroke="#8a8a8a" stroke-width="1"/>
<line x1="457.35" y1="163.5" x2="457.35" y2="165.0" stroke="#8a8a8a" stroke-width="1"/>
<line x1="477.40" y1="163.5" x2="477.40" y2="165.0" stroke="#8a8a8a" stroke-width="1"/>
<line x1="497.45" y1="163.5" x2="497.45" y2="165.0" stroke="#8a8a8a" stroke-width="1"/>
<text transform="translate(302.60,174.30) scale(0.955,1)" font-size="9.9" text-anchor="middle" fill="#1e1e1e" stroke="#1e1e1e" stroke-width="0.3" >0</text>
<text transform="translate(326.30,174.30) scale(0.955,1)" font-size="9.9" text-anchor="middle" fill="#1e1e1e" stroke="#1e1e1e" stroke-width="0.3" >1</text>
<text transform="translate(346.40,174.30) scale(0.955,1)" font-size="9.9" text-anchor="middle" fill="#1e1e1e" stroke="#1e1e1e" stroke-width="0.3" >2</text>
<text transform="translate(366.40,174.30) scale(0.955,1)" font-size="9.9" text-anchor="middle" fill="#1e1e1e" stroke="#1e1e1e" stroke-width="0.3" >3</text>
<text transform="translate(386.30,174.30) scale(0.955,1)" font-size="9.9" text-anchor="middle" fill="#1e1e1e" stroke="#1e1e1e" stroke-width="0.3" >4</text>
<text transform="translate(406.80,174.30) scale(0.955,1)" font-size="9.9" text-anchor="middle" fill="#1e1e1e" stroke="#1e1e1e" stroke-width="0.3" >5</text>
<text transform="translate(426.90,174.30) scale(0.955,1)" font-size="9.9" text-anchor="middle" fill="#1e1e1e" stroke="#1e1e1e" stroke-width="0.3" >6</text>
<text transform="translate(446.90,174.30) scale(0.955,1)" font-size="9.9" text-anchor="middle" fill="#1e1e1e" stroke="#1e1e1e" stroke-width="0.3" >7</text>
<text transform="translate(466.80,174.30) scale(0.955,1)" font-size="9.9" text-anchor="middle" fill="#1e1e1e" stroke="#1e1e1e" stroke-width="0.3" >8</text>
<text transform="translate(486.90,174.30) scale(0.955,1)" font-size="9.9" text-anchor="middle" fill="#1e1e1e" stroke="#1e1e1e" stroke-width="0.3" >9</text>
<text transform="translate(511.50,174.30) scale(0.955,1)" font-size="9.9" text-anchor="middle" fill="#1e1e1e" stroke="#1e1e1e" stroke-width="0.3" >10</text>
<polyline points="306.50,172.00 326.52,147.30 346.54,145.80 366.56,155.20 386.58,133.40 406.60,139.30 426.62,131.10 446.64,156.30 466.66,136.60 486.68,130.10 506.70,128.80" fill="none" stroke="#333" stroke-width="1.0" stroke-dasharray="4,2.2"/>
<polyline points="306.50,164.70 326.52,145.20 346.54,145.80 366.56,139.30 386.58,123.50 406.60,129.40 426.62,145.80 446.64,122.20 466.66,118.90 486.68,123.50 506.70,174.70" fill="none" stroke="#222" stroke-width="1.0"/>
<polygon points="304.00,174.25 309.00,174.25 306.50,169.75" fill="#fff" stroke="#222" stroke-width="0.9"/>
<polygon points="324.02,149.55 329.02,149.55 326.52,145.05" fill="#fff" stroke="#222" stroke-width="0.9"/>
<polygon points="344.04,148.05 349.04,148.05 346.54,143.55" fill="#fff" stroke="#222" stroke-width="0.9"/>
<polygon points="364.06,157.45 369.06,157.45 366.56,152.95" fill="#fff" stroke="#222" stroke-width="0.9"/>
<polygon points="384.08,135.65 389.08,135.65 386.58,131.15" fill="#fff" stroke="#222" stroke-width="0.9"/>
<polygon points="404.10,141.55 409.10,141.55 406.60,137.05" fill="#fff" stroke="#222" stroke-width="0.9"/>
<polygon points="424.12,133.35 429.12,133.35 426.62,128.85" fill="#fff" stroke="#222" stroke-width="0.9"/>
<polygon points="444.14,158.55 449.14,158.55 446.64,154.05" fill="#fff" stroke="#222" stroke-width="0.9"/>
<polygon points="464.16,138.85 469.16,138.85 466.66,134.35" fill="#fff" stroke="#222" stroke-width="0.9"/>
<polygon points="484.18,132.35 489.18,132.35 486.68,127.85" fill="#fff" stroke="#222" stroke-width="0.9"/>
<polygon points="504.20,131.05 509.20,131.05 506.70,126.55" fill="#fff" stroke="#222" stroke-width="0.9"/>
<circle cx="306.50" cy="164.70" r="2.5" fill="#111"/>
<circle cx="326.52" cy="145.20" r="2.5" fill="#111"/>
<circle cx="346.54" cy="145.80" r="2.5" fill="#111"/>
<circle cx="366.56" cy="139.30" r="2.5" fill="#111"/>
<circle cx="386.58" cy="123.50" r="2.5" fill="#111"/>
<circle cx="406.60" cy="129.40" r="2.5" fill="#111"/>
<circle cx="426.62" cy="145.80" r="2.5" fill="#111"/>
<circle cx="446.64" cy="122.20" r="2.5" fill="#111"/>
<circle cx="466.66" cy="118.90" r="2.5" fill="#111"/>
<circle cx="486.68" cy="123.50" r="2.5" fill="#111"/>
<circle cx="506.70" cy="174.70" r="2.5" fill="#111"/>
<rect x="296.50" y="183.70" width="220.00" height="12.10" fill="#d0d0d0" stroke="#707070" stroke-width="1"/>
<line x1="297.00" y1="185.20" x2="516.00" y2="185.20" stroke="#e4e4e4" stroke-width="1"/>
<line x1="298.00" y1="184.20" x2="298.00" y2="195.30" stroke="#e0e0e0" stroke-width="1"/>
<line x1="515.00" y1="184.20" x2="515.00" y2="195.30" stroke="#e4e4e4" stroke-width="1"/>
<line x1="297.00" y1="194.30" x2="516.00" y2="194.30" stroke="#cbcbcb" stroke-width="1"/>
<rect x="300.20" y="187.65" width="15.00" height="2.70" rx="1.35" fill="#212121"/>
<rect x="318.70" y="187.75" width="15.00" height="2.70" rx="1.35" fill="#212121"/>
<rect x="337.70" y="187.85" width="15.00" height="2.70" rx="1.35" fill="#212121"/>
<rect x="357.70" y="187.95" width="15.00" height="2.70" rx="1.35" fill="#212121"/>
<rect x="376.90" y="188.15" width="15.00" height="2.70" rx="1.35" fill="#212121"/>
<rect x="396.80" y="188.25" width="15.00" height="2.70" rx="1.35" fill="#212121"/>
<rect x="416.80" y="188.35" width="15.00" height="2.70" rx="1.35" fill="#212121"/>
<rect x="436.80" y="188.45" width="15.00" height="2.70" rx="1.35" fill="#212121"/>
<rect x="457.00" y="188.55" width="15.00" height="2.70" rx="1.35" fill="#212121"/>
<rect x="477.00" y="188.65" width="15.00" height="2.70" rx="1.35" fill="#212121"/>
<rect x="497.00" y="188.75" width="15.00" height="2.70" rx="1.35" fill="#212121"/>
<line x1="297" y1="101.5" x2="297" y2="183.5" stroke="#8a8a8a" stroke-width="1"/>
<line x1="295.5" y1="101.80" x2="297" y2="101.80" stroke="#8a8a8a" stroke-width="1"/>
<text transform="translate(294.20,105.15) scale(0.955,1)" font-size="9.9" text-anchor="end" fill="#1e1e1e" stroke="#1e1e1e" stroke-width="0.3" >1000</text>
<line x1="295.5" y1="122.50" x2="297" y2="122.50" stroke="#8a8a8a" stroke-width="1"/>
<text transform="translate(294.20,125.85) scale(0.955,1)" font-size="9.9" text-anchor="end" fill="#1e1e1e" stroke="#1e1e1e" stroke-width="0.3" >100</text>
<line x1="295.5" y1="143.20" x2="297" y2="143.20" stroke="#8a8a8a" stroke-width="1"/>
<text transform="translate(294.20,146.55) scale(0.955,1)" font-size="9.9" text-anchor="end" fill="#1e1e1e" stroke="#1e1e1e" stroke-width="0.3" >10</text>
<line x1="295.5" y1="163.50" x2="297" y2="163.50" stroke="#8a8a8a" stroke-width="1"/>
<text transform="translate(295.40,166.85) scale(0.955,1)" font-size="9.9" text-anchor="end" fill="#1e1e1e" stroke="#1e1e1e" stroke-width="0.3" >1</text>
<line x1="295.5" y1="182.70" x2="297" y2="182.70" stroke="#8a8a8a" stroke-width="1"/>
<text transform="translate(294.20,186.05) scale(0.955,1)" font-size="9.9" text-anchor="end" fill="#1e1e1e" stroke="#1e1e1e" stroke-width="0.3" >ND</text>
<text transform="translate(303.00,115.95) scale(0.955,1)" font-size="9.9" text-anchor="start" fill="#1e1e1e" stroke="#1e1e1e" stroke-width="0.3" >Flk-1</text>
<line x1="331.0" y1="112.6" x2="349.5" y2="112.6" stroke="#777" stroke-width="0.9" stroke-dasharray="3,2"/>
<polygon points="338.45,114.22 342.05,114.22 340.25,110.98" fill="#fff" stroke="#222" stroke-width="0.8"/>
<text transform="translate(350.80,115.95) scale(0.955,1)" font-size="9.9" text-anchor="start" fill="#1e1e1e" stroke="#1e1e1e" stroke-width="0.3" >H1</text>
<line x1="372.6" y1="112.6" x2="390.0" y2="112.6" stroke="#666" stroke-width="0.9"/>
<circle cx="381.30" cy="112.60" r="1.7" fill="#111"/>
<text transform="translate(391.00,115.95) scale(0.955,1)" font-size="9.9" text-anchor="start" fill="#1e1e1e" stroke="#1e1e1e" stroke-width="0.3" >H9</text>
<polyline points="306.40,282.70 326.50,282.70 346.60,282.70 366.70,282.70 386.80,282.70 406.90,282.70 427.00,282.70 447.10,282.00 467.20,273.70 487.30,262.90 507.40,251.40" fill="none" stroke="#333" stroke-width="1.0" stroke-dasharray="4,2.2"/>
<polyline points="306.40,282.70 326.50,282.70 346.60,282.70 366.70,282.70 386.80,282.70 406.90,282.70 427.00,282.70 447.10,273.70 467.20,255.70 487.30,233.40 507.40,249.80" fill="none" stroke="#222" stroke-width="1.0"/>
<polygon points="303.60,285.22 309.20,285.22 306.40,280.18" fill="#fff" stroke="#222" stroke-width="0.9"/>
<polygon points="323.70,285.22 329.30,285.22 326.50,280.18" fill="#fff" stroke="#222" stroke-width="0.9"/>
<polygon points="343.80,285.22 349.40,285.22 346.60,280.18" fill="#fff" stroke="#222" stroke-width="0.9"/>
<polygon points="363.90,285.22 369.50,285.22 366.70,280.18" fill="#fff" stroke="#222" stroke-width="0.9"/>
<polygon points="384.00,285.22 389.60,285.22 386.80,280.18" fill="#fff" stroke="#222" stroke-width="0.9"/>
<polygon points="404.10,285.22 409.70,285.22 406.90,280.18" fill="#fff" stroke="#222" stroke-width="0.9"/>
<polygon points="424.20,285.22 429.80,285.22 427.00,280.18" fill="#fff" stroke="#222" stroke-width="0.9"/>
<polygon points="444.30,284.52 449.90,284.52 447.10,279.48" fill="#fff" stroke="#222" stroke-width="0.9"/>
<polygon points="464.40,276.22 470.00,276.22 467.20,271.18" fill="#fff" stroke="#222" stroke-width="0.9"/>
<polygon points="484.50,265.42 490.10,265.42 487.30,260.38" fill="#fff" stroke="#222" stroke-width="0.9"/>
<polygon points="504.60,253.92 510.20,253.92 507.40,248.88" fill="#fff" stroke="#222" stroke-width="0.9"/>
<circle cx="306.40" cy="282.70" r="2.6" fill="#111"/>
<circle cx="326.50" cy="282.70" r="2.6" fill="#111"/>
<circle cx="346.60" cy="282.70" r="2.6" fill="#111"/>
<circle cx="366.70" cy="282.70" r="2.6" fill="#111"/>
<circle cx="386.80" cy="282.70" r="2.6" fill="#111"/>
<circle cx="406.90" cy="282.70" r="2.6" fill="#111"/>
<circle cx="427.00" cy="282.70" r="2.6" fill="#111"/>
<circle cx="447.10" cy="273.70" r="2.6" fill="#111"/>
<circle cx="467.20" cy="255.70" r="2.6" fill="#111"/>
<circle cx="487.30" cy="233.40" r="2.6" fill="#111"/>
<circle cx="507.40" cy="249.80" r="2.6" fill="#111"/>
<rect x="296.50" y="282.70" width="221.00" height="11.90" fill="#d0d0d0" stroke="#707070" stroke-width="1"/>
<line x1="297.00" y1="284.20" x2="517.00" y2="284.20" stroke="#e4e4e4" stroke-width="1"/>
<line x1="298.00" y1="283.20" x2="298.00" y2="294.10" stroke="#e0e0e0" stroke-width="1"/>
<line x1="516.00" y1="283.20" x2="516.00" y2="294.10" stroke="#e4e4e4" stroke-width="1"/>
<line x1="297.00" y1="293.10" x2="517.00" y2="293.10" stroke="#cbcbcb" stroke-width="1"/>
<rect x="398.00" y="286.25" width="12.00" height="1.50" rx="0.75" fill="#c7c7c7"/>
<rect x="457.30" y="285.90" width="15.00" height="2.20" rx="1.10" fill="#373737"/>
<rect x="477.50" y="285.90" width="15.00" height="2.20" rx="1.10" fill="#373737"/>
<rect x="497.80" y="285.90" width="15.00" height="2.20" rx="1.10" fill="#373737"/>
<line x1="297" y1="198.5" x2="297" y2="282.5" stroke="#8a8a8a" stroke-width="1"/>
<line x1="295.5" y1="199.60" x2="297" y2="199.60" stroke="#8a8a8a" stroke-width="1"/>
<text transform="translate(294.20,202.95) scale(0.955,1)" font-size="9.9" text-anchor="end" fill="#1e1e1e" stroke="#1e1e1e" stroke-width="0.3" >0.015</text>
<line x1="295.5" y1="227.00" x2="297" y2="227.00" stroke="#8a8a8a" stroke-width="1"/>
<text transform="translate(294.20,230.35) scale(0.955,1)" font-size="9.9" text-anchor="end" fill="#1e1e1e" stroke="#1e1e1e" stroke-width="0.3" >0.01</text>
<line x1="295.5" y1="254.60" x2="297" y2="254.60" stroke="#8a8a8a" stroke-width="1"/>
<text transform="translate(294.20,257.95) scale(0.955,1)" font-size="9.9" text-anchor="end" fill="#1e1e1e" stroke="#1e1e1e" stroke-width="0.3" >0.005</text>
<line x1="295.5" y1="282.30" x2="297" y2="282.30" stroke="#8a8a8a" stroke-width="1"/>
<text transform="translate(294.20,285.65) scale(0.955,1)" font-size="9.9" text-anchor="end" fill="#1e1e1e" stroke="#1e1e1e" stroke-width="0.3" >ND</text>
<line x1="295.5" y1="198.9" x2="517.8" y2="198.9" stroke="#8a8a8a" stroke-width="1"/>
<line x1="317.00" y1="198.9" x2="317.00" y2="200.4" stroke="#8a8a8a" stroke-width="1"/>
<line x1="337.05" y1="198.9" x2="337.05" y2="200.4" stroke="#8a8a8a" stroke-width="1"/>
<line x1="357.10" y1="198.9" x2="357.10" y2="200.4" stroke="#8a8a8a" stroke-width="1"/>
<line x1="377.15" y1="198.9" x2="377.15" y2="200.4" stroke="#8a8a8a" stroke-width="1"/>
<line x1="397.20" y1="198.9" x2="397.20" y2="200.4" stroke="#8a8a8a" stroke-width="1"/>
<line x1="417.25" y1="198.9" x2="417.25" y2="200.4" stroke="#8a8a8a" stroke-width="1"/>
<line x1="437.30" y1="198.9" x2="437.30" y2="200.4" stroke="#8a8a8a" stroke-width="1"/>
<line x1="457.35" y1="198.9" x2="457.35" y2="200.4" stroke="#8a8a8a" stroke-width="1"/>
<line x1="477.40" y1="198.9" x2="477.40" y2="200.4" stroke="#8a8a8a" stroke-width="1"/>
<line x1="497.45" y1="198.9" x2="497.45" y2="200.4" stroke="#8a8a8a" stroke-width="1"/>
<text transform="translate(306.40,209.70) scale(0.955,1)" font-size="9.9" text-anchor="middle" fill="#1e1e1e" stroke="#1e1e1e" stroke-width="0.3" >0</text>
<text transform="translate(326.50,209.70) scale(0.955,1)" font-size="9.9" text-anchor="middle" fill="#1e1e1e" stroke="#1e1e1e" stroke-width="0.3" >1</text>
<text transform="translate(346.60,209.70) scale(0.955,1)" font-size="9.9" text-anchor="middle" fill="#1e1e1e" stroke="#1e1e1e" stroke-width="0.3" >2</text>
<text transform="translate(366.70,209.70) scale(0.955,1)" font-size="9.9" text-anchor="middle" fill="#1e1e1e" stroke="#1e1e1e" stroke-width="0.3" >3</text>
<text transform="translate(386.80,209.70) scale(0.955,1)" font-size="9.9" text-anchor="middle" fill="#1e1e1e" stroke="#1e1e1e" stroke-width="0.3" >4</text>
<text transform="translate(406.90,209.70) scale(0.955,1)" font-size="9.9" text-anchor="middle" fill="#1e1e1e" stroke="#1e1e1e" stroke-width="0.3" >5</text>
<text transform="translate(427.00,209.70) scale(0.955,1)" font-size="9.9" text-anchor="middle" fill="#1e1e1e" stroke="#1e1e1e" stroke-width="0.3" >6</text>
<text transform="translate(447.10,209.70) scale(0.955,1)" font-size="9.9" text-anchor="middle" fill="#1e1e1e" stroke="#1e1e1e" stroke-width="0.3" >7</text>
<text transform="translate(467.20,209.70) scale(0.955,1)" font-size="9.9" text-anchor="middle" fill="#1e1e1e" stroke="#1e1e1e" stroke-width="0.3" >8</text>
<text transform="translate(487.30,209.70) scale(0.955,1)" font-size="9.9" text-anchor="middle" fill="#1e1e1e" stroke="#1e1e1e" stroke-width="0.3" >9</text>
<text transform="translate(507.40,209.70) scale(0.955,1)" font-size="9.9" text-anchor="middle" fill="#1e1e1e" stroke="#1e1e1e" stroke-width="0.3" >10</text>
<text transform="translate(306.20,218.95) scale(0.955,1)" font-size="9.9" text-anchor="start" fill="#1e1e1e" stroke="#1e1e1e" stroke-width="0.3" >CD45</text>
<line x1="344.7" y1="215.6" x2="363.4" y2="215.6" stroke="#777" stroke-width="0.9" stroke-dasharray="3,2"/>
<polygon points="352.25,217.22 355.85,217.22 354.05,213.98" fill="#fff" stroke="#222" stroke-width="0.8"/>
<text transform="translate(363.90,218.95) scale(0.955,1)" font-size="9.9" text-anchor="start" fill="#1e1e1e" stroke="#1e1e1e" stroke-width="0.3" >H1</text>
<line x1="385.8" y1="215.6" x2="404.2" y2="215.6" stroke="#666" stroke-width="0.9"/>
<circle cx="395.00" cy="215.60" r="1.7" fill="#111"/>
<text transform="translate(404.80,218.95) scale(0.955,1)" font-size="9.9" text-anchor="start" fill="#1e1e1e" stroke="#1e1e1e" stroke-width="0.3" >H9</text>
<line x1="14.1" y1="302.5" x2="14.1" y2="8" stroke="#4a4a4a" stroke-width="1.5"/>
<polygon points="11.8,8.6 16.4,8.6 14.1,2.4" fill="#111"/>
<line x1="14" y1="302.5" x2="512" y2="302.5" stroke="#3a3a3a" stroke-width="1.3"/>
<polygon points="510.8,300.2 510.8,304.8 518,302.5" fill="#111"/>
<circle cx="14.1" cy="302.5" r="2.5" fill="#111"/>
<text x="204.6" y="316.6" font-size="10.3" fill="#1e1e1e" stroke="#1e1e1e" stroke-width="0.08" textLength="157" lengthAdjust="spacingAndGlyphs">Day of hESC/OP9 co-culture</text>
<text transform="translate(9.2,201.5) rotate(-90)" font-size="10.3" fill="#1e1e1e" stroke="#1e1e1e" stroke-width="0.08" textLength="107.8" lengthAdjust="spacingAndGlyphs">Relative expression</text>
</g></svg>
</body></html>
